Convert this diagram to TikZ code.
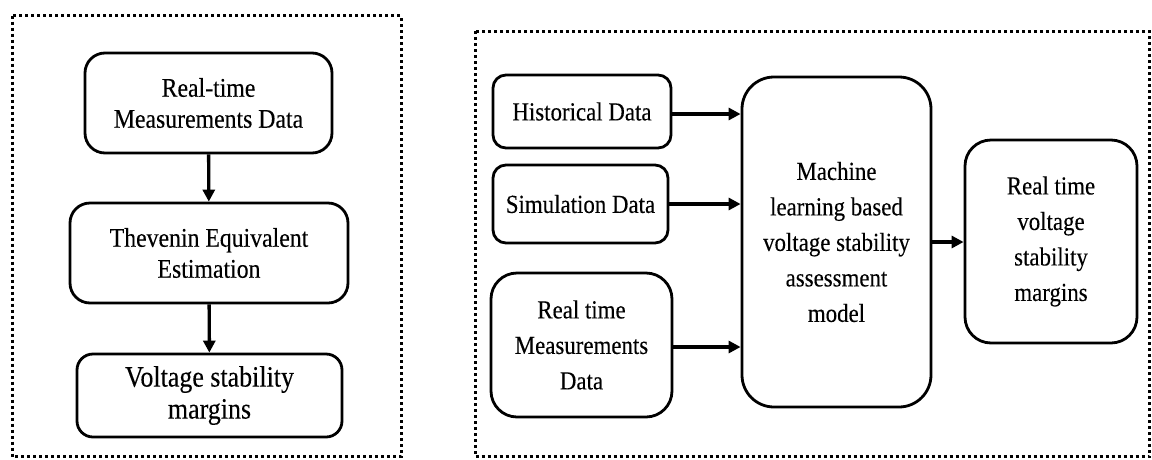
\documentclass[tikz,border=0pt]{standalone}
\usepackage{fontspec}
\setmainfont{Liberation Serif}[FakeStretch=0.88, FakeBold=0.2]
\usetikzlibrary{arrows.meta}
\tikzset{
  panel/.style={line width=3pt, dash pattern=on 3pt off 3pt, black},
  box/.style={draw, line width=2.8pt, rounded corners=#1, align=center, inner sep=0pt},
  box/.default=18pt,
  lefttext/.style={font=\fontsize{27}{31}\selectfont},
  righttext/.style={font=\fontsize{26}{35.5}\selectfont},
  flow/.style={line width=3.4pt, -{Triangle[length=12pt,width=12pt]}}
}
\begin{document}
\begin{tikzpicture}[x=1pt,y=-1pt]
  \useasboundingbox (0,0) rectangle (1152,459);
  \fill[white] (0,0) rectangle (1152,459);

  % dotted panel frames
  \draw[panel] (12,15.5) rectangle (401,456.5);
  \draw[panel] (475,31) rectangle (1149.5,456.5);

  % left panel: classical estimation chain
  \node[box=20pt, lefttext, minimum width=247pt, minimum height=100pt] (rtm) at (208.5,103)
    {Real-time\\Measurements Data};
  \node[box=20pt, lefttext, minimum width=278pt, minimum height=100pt] (thev) at (209,253)
    {Thevenin Equivalent\\Estimation};
  \node[box=16pt, font=\fontsize{29.5}{32}\selectfont, minimum width=265pt, minimum height=83pt] (vsm) at (209.5,395.5)
    {Voltage stability\\margins};
  \draw[flow] (rtm) -- (thev);
  \draw[flow] (thev) -- (vsm);

  % right panel: data-driven assessment
  \node[box=13pt, righttext, minimum width=178pt, minimum height=73pt] (hist) at (582,111.5)
    {Historical Data};
  \node[box=13pt, righttext, minimum width=175pt, minimum height=78pt] (sim) at (580.5,204)
    {Simulation Data};
  \node[box=26pt, righttext, minimum width=181pt, minimum height=144pt] (rtd) at (581.5,345)
    {Real time\\Measurements\\Data};
  \node[box=32pt, righttext, minimum width=189pt, minimum height=330pt] (ml) at (836.5,242)
    {Machine\\learning based\\voltage stability\\assessment\\model};
  \node[box=26pt, righttext, minimum width=172pt, minimum height=203pt] (out) at (1051,241.5)
    {Real time\\voltage\\stability\\margins};

  \draw[flow] ([yshift=-2.5pt]hist.east) -- ([yshift=-2.5pt]hist.east -| ml.west);
  \draw[flow] (sim.east) -- (sim.east -| ml.west);
  \draw[flow] ([yshift=-2pt]rtd.east) -- ([yshift=-2pt]rtd.east -| ml.west);
  \draw[flow] (ml.east) -- (ml.east -| out.west);
\end{tikzpicture}
\end{document}
